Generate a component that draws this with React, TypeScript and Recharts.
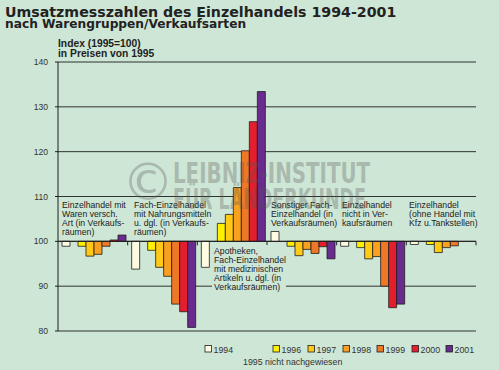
import { BarChart, Bar, XAxis, YAxis, CartesianGrid, ReferenceLine } from "recharts";

// Gruppen (Warengruppen/Verkaufsarten)
const categories = [
  "Einzelhandel mit Waren versch. Art (in Verkaufsräumen)",
  "Fach-Einzelhandel mit Nahrungsmitteln u. dgl. (in Verkaufsräumen)",
  "Apotheken, Fach-Einzelhandel mit medizinischen Artikeln u. dgl. (in Verkaufsräumen)",
  "Sonstiger Fach-Einzelhandel (in Verkaufsräumen)",
  "Einzelhandel nicht in Verkaufsräumen",
  "Einzelhandel (ohne Handel mit Kfz u.Tankstellen)",
];

const labelLines = [
  ["Einzelhandel mit", "Waren versch.", "Art (in Verkaufs-", "räumen)"],
  ["Fach-Einzelhandel", "mit Nahrungsmitteln", "u. dgl. (in Verkaufs-", "räumen)"],
  ["Apotheken,", "Fach-Einzelhandel", "mit medizinischen", "Artikeln u. dgl. (in", "Verkaufsräumen)"],
  ["Sonstiger Fach-", "Einzelhandel (in", "Verkaufsräumen)"],
  ["Einzelhandel", "nicht in Ver-", "kaufsräumen"],
  ["Einzelhandel", "(ohne Handel mit", "Kfz u.Tankstellen)"],
];

const years = ["1994", "1995", "1996", "1997", "1998", "1999", "2000", "2001"];

const v1994 = [98.9, 93.8, 94.2, 102.2, 98.9, 99.3];
const v1995: (number | null)[] = [null, null, null, null, null, null]; // nicht nachgewiesen
const v1996 = [98.9, 98.0, 104.0, 98.9, 98.6, 99.3];
const v1997 = [96.7, 94.2, 106.0, 96.8, 96.1, 97.5];
const v1998 = [97.1, 92.2, 112.0, 98.2, 96.6, 98.6];
const v1999 = [98.9, 86.0, 120.2, 97.3, 90.0, 99.0];
const v2000 = [100.3, 84.3, 126.7, 98.8, 85.2, 100.0];
const v2001 = [101.4, 80.8, 133.4, 96.1, 86.0, 100.0];

const yTicks = [80, 90, 100, 110, 120, 130, 140];

const series = [v1994, v1995, v1996, v1997, v1998, v1999, v2000, v2001];

const COLORS: Record<string, string> = {
  "1994": "#fffbe2",
  "1995": "#ffffff",
  "1996": "#fff000",
  "1997": "#ffc915",
  "1998": "#f9a11f",
  "1999": "#ef7826",
  "2000": "#e41f2d",
  "2001": "#6a2b8e",
};

const BG = "#cee6d5";
const INK = "#1e1e1e";
const FONT = "'Liberation Sans', Arial, sans-serif";

const data = categories.map((name, i) => {
  const row: Record<string, any> = { name };
  years.forEach((y, k) => {
    row["y" + y] = series[k][i];
  });
  return row;
});

// bars hang from the 100 line: [low, high]
const rangeOf = (key: string) => (d: any) => {
  const v = d[key];
  if (v == null) return null;
  return [Math.min(100, v), Math.max(100, v)];
};

// label placement (layout only)
const labelX = [62, 134, 214, 271, 342, 409];
const labelTop = [208, 208, 254, 208, 208, 208];
const legendX: Record<string, number> = {
  "1994": 205, "1996": 273, "1997": 308, "1998": 343, "1999": 377, "2000": 412, "2001": 446,
};

function BaseLine(props: any) {
  const { x1, y1, x2, y2 } = props;
  const n = categories.length;
  const step = (x2 - x1) / n;
  return (
    <g>
      <line x1={x1} y1={y1} x2={x2} y2={y2} stroke={INK} strokeWidth={1} />
      {categories.map((_, i) => (
        <line key={i} x1={x1 + step * (i + 1)} x2={x1 + step * (i + 1)} y1={y1} y2={y1 + 4} stroke={INK} strokeWidth={1} />
      ))}
    </g>
  );
}

export default function App() {
  return (
    <div style={{ position: "absolute", left: 0, top: 0, width: 499, height: 370, background: BG, fontFamily: FONT }}>
      <BarChart
        width={499}
        height={370}
        data={data}
        margin={{ top: 62, right: 23, bottom: 39, left: 0 }}
        barCategoryGap={4}
        barGap={0}
      >
        <CartesianGrid horizontal vertical={false} stroke={INK} strokeWidth={0.9} />
        <XAxis dataKey="name" hide />
        <YAxis
          domain={[80, 140]}
          ticks={yTicks}
          width={58}
          interval={0}
          allowDataOverflow
          axisLine={{ stroke: INK, strokeWidth: 1 }}
          tickLine={{ stroke: INK, strokeWidth: 1 }}
          tickSize={3}
          tickMargin={7}
          tick={{ fontSize: 8.6, fill: "#333", fontFamily: FONT }}
        />
        {years.map((y) => (
          <Bar
            key={y}
            dataKey={rangeOf("y" + y)}
            fill={COLORS[y]}
            stroke={INK}
            strokeWidth={0.8}
            isAnimationActive={false}
          />
        ))}
        <ReferenceLine y={100} shape={BaseLine} />
      </BarChart>

      <svg width={499} height={370} style={{ position: "absolute", left: 0, top: 0, pointerEvents: "none" }}>
        {/* Titel */}
        <text x={5} y={17} fontFamily="'DejaVu Sans', sans-serif" fontWeight="bold" fontSize={14.2} fill="#222">
          Umsatzmesszahlen des Einzelhandels 1994-2001
        </text>
        <text x={5} y={28} fontFamily="'DejaVu Sans', sans-serif" fontWeight="bold" fontSize={12.2} fill="#222">
          nach Warengruppen/Verkaufsarten
        </text>
        <text x={58} y={47} fontFamily={FONT} fontWeight="bold" fontSize={10.3} fill="#222">
          Index (1995=100)
        </text>
        <text x={58} y={57} fontFamily={FONT} fontWeight="bold" fontSize={10.3} fill="#222">
          in Preisen von 1995
        </text>

        {/* Gruppenbeschriftungen */}
        <rect x={212} y={245} width={74} height={47} fill={BG} />
        {labelLines.map((lines, i) => (
          <text key={i} fontFamily={FONT} fontSize={8.7} fill="#222">
            {lines.map((l, k) => (
              <tspan key={k} x={labelX[i]} y={labelTop[i] + k * 8.9}>{l}</tspan>
            ))}
          </text>
        ))}

        {/* Legende */}
        {years.filter((y) => y !== "1995").map((y) => (
          <g key={y}>
            <rect x={legendX[y]} y={345.5} width={6.5} height={6.5} fill={COLORS[y]} stroke={INK} strokeWidth={0.8} />
            <text x={legendX[y] + 8.5} y={352.5} fontFamily={FONT} fontSize={8.8} fill="#333">{y}</text>
          </g>
        ))}
        <text x={243} y={365} fontFamily={FONT} fontSize={8.8} fill="#333">1995 nicht nachgewiesen</text>

        {/* Wasserzeichen */}
        <g fill="#555" opacity={0.3}>
          <text x={148} y={200} textAnchor="middle" fontFamily="'DejaVu Sans', sans-serif" fontSize={52}>©</text>
          <text x={173} y={183} fontFamily="'DejaVu Sans Condensed', 'DejaVu Sans', sans-serif" fontWeight="bold" fontSize={28} textLength={197} lengthAdjust="spacingAndGlyphs">LEIBNIZ-INSTITUT</text>
          <text x={173} y={208.5} fontFamily="'DejaVu Sans Condensed', 'DejaVu Sans', sans-serif" fontWeight="bold" fontSize={28} textLength={193} lengthAdjust="spacingAndGlyphs">FÜR LÄNDERKUNDE</text>
        </g>
      </svg>
    </div>
  );
}
